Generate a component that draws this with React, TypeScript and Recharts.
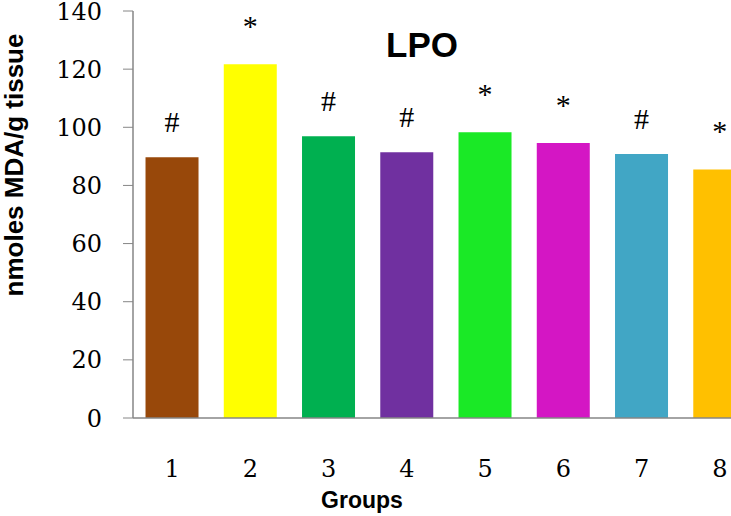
import React from "react";
import { BarChart, Bar, XAxis, YAxis, Cell, LabelList } from "recharts";

const groups = ["1", "2", "3", "4", "5", "6", "7", "8"];
const lpoValues = [89.7, 121.7, 96.9, 91.4, 98.3, 94.6, 90.8, 85.5];
const significance = ["#", "*", "#", "#", "*", "*", "#", "*"];
const barColors = [
	"#98480A",
	"#FFFF00",
	"#00B050",
	"#7030A0",
	"#1AE926",
	"#D416C4",
	"#41A6C5",
	"#FFC000",
];
const yTicks = [0, 20, 40, 60, 80, 100, 120, 140];
const edgeTicks = [0, 1, 2, 3, 4, 5, 6, 7, 8];

const chartData = groups.map((g, i) => ({
	group: g,
	lpo: lpoValues[i],
	mark: significance[i],
}));

const axisGray = "#868686";
const serif = "'Liberation Serif', 'Times New Roman', serif";
const tickFont = "'DejaVu Serif', serif";
const sans = "'Liberation Sans', Arial, sans-serif";

const MarkLabel = (props: any) => {
	const { x, y, width, value } = props;
	const lift = value === "*" ? 28 : 25;
	return (
		<text
			x={Number(x) + Number(width) / 2}
			y={Number(y) - lift}
			textAnchor="middle"
			fontFamily={serif}
			fontSize={30}
			fill="#000"
		>
			{value}
		</text>
	);
};

const YTitle = () => (
	<text
		transform="translate(23,165) rotate(-90)"
		textAnchor="middle"
		fontFamily={sans}
		fontWeight="bold"
		fontSize={26}
		fill="#000"
	>
		nmoles MDA/g tissue
	</text>
);

const XTitle = () => (
	<text
		x={362}
		y={508}
		textAnchor="middle"
		fontFamily={sans}
		fontWeight="bold"
		fontSize={23}
		fill="#000"
	>
		Groups
	</text>
);

export default function App() {
	return (
		<div
			style={{
				position: "fixed",
				left: 0,
				top: 0,
				width: 731,
				height: 516,
				overflow: "hidden",
				background: "#fff",
			}}
		>
			<div
				style={{
					position: "absolute",
					left: 322,
					top: 27,
					width: 200,
					textAlign: "center",
					fontFamily: sans,
					fontWeight: "bold",
					fontSize: 35,
					lineHeight: "35px",
					color: "#000",
				}}
			>
				LPO
			</div>
			<BarChart
				width={770}
				height={516}
				data={chartData}
				margin={{ top: 11, right: 11, left: 0, bottom: 0 }}
				barCategoryGap="16%"
			>
				<XAxis
					xAxisId="edge"
					type="number"
					domain={[0, 8]}
					ticks={edgeTicks}
					allowDataOverflow
					height={0}
					axisLine={false}
					tickSize={10}
					tickLine={{ stroke: axisGray }}
					tick={() => <g />}
				/>
				<XAxis
					xAxisId="cat"
					dataKey="group"
					height={98}
					axisLine={{ stroke: axisGray, strokeWidth: 1.5 }}
					tickLine={false}
					tickSize={0}
					tickMargin={42}
					tick={{ fontFamily: tickFont, fontSize: 24, fill: "#000" }}
					label={<XTitle />}
				/>
				<YAxis
					width={133}
					domain={[0, 140]}
					ticks={yTicks}
					interval={0}
					tickSize={10}
					tickMargin={21}
					axisLine={{ stroke: axisGray, strokeWidth: 1.5 }}
					tickLine={{ stroke: axisGray }}
					tick={{ fontFamily: tickFont, fontSize: 24, fill: "#000" }}
					label={<YTitle />}
				/>
				<Bar xAxisId="cat" dataKey="lpo" isAnimationActive={false}>
					{chartData.map((d, i) => (
						<Cell key={d.group} fill={barColors[i]} />
					))}
					<LabelList dataKey="mark" content={MarkLabel} />
				</Bar>
			</BarChart>
		</div>
	);
}
